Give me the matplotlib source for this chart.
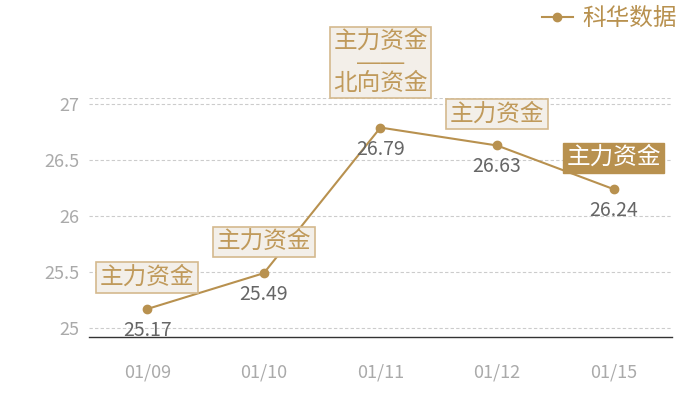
import matplotlib
matplotlib.use('Agg')
import matplotlib.pyplot as plt

plt.rcParams['font.family'] = ['Noto Sans CJK SC', 'DejaVu Sans']

dates = ['01/09', '01/10', '01/11', '01/12', '01/15']
prices = [25.17, 25.49, 26.79, 26.63, 26.24]
tags = ['主力资金', '主力资金', '主力资金\n——\n北向资金', '主力资金', '主力资金']
tag_filled = [False, False, False, False, True]
series_name = '科华数据'

gold = '#b8914f'
tag_text = '#c09a5b'

fig = plt.figure(figsize=(7, 4), dpi=100)
ax = fig.add_axes([0.127, 0.1575, 0.833, 0.5975])

x = list(range(len(dates)))
ax.plot(x, prices, color=gold, lw=1.5, marker='o', markersize=6, label=series_name)

ax.set_xlim(-0.5, len(dates) - 0.5)
ax.set_ylim(24.92, 27.054)
ax.set_yticks([25, 25.5, 26, 26.5, 27])
ax.set_yticklabels(['25', '25.5', '26', '26.5', '27'])
ax.set_xticks(x)
ax.set_xticklabels(dates)
ax.tick_params(length=0, colors='#aaaaaa', labelsize=13)
ax.tick_params(axis='x', pad=19)
ax.tick_params(axis='y', pad=7)

ax.grid(axis='y', color='#cccccc', linestyle=(0, (3, 2)), lw=0.8)
ax.axhline(27.054, color='#cccccc', linestyle=(0, (3, 2)), lw=0.8)
for side in ['top', 'right', 'left']:
    ax.spines[side].set_visible(False)
ax.spines['bottom'].set_color('#333333')
ax.spines['bottom'].set_linewidth(1)

for xi, p, t, filled in zip(x, prices, tags, tag_filled):
    ax.annotate(f'{p:.2f}', (xi, p), xytext=(0, -11), textcoords='offset pixels',
                ha='center', va='top', fontsize=14, color='#666666')
    if filled:
        box = dict(boxstyle='square,pad=0.15', fc=gold, ec=gold, lw=1)
        tc = 'white'
    else:
        box = dict(boxstyle='square,pad=0.15', fc='#f3efe9', ec='#d4b98e', lw=1.2)
        tc = tag_text
    multi = '\n' in t
    # em dashes from Liberation Sans join into one rule
    ax.annotate(t, (xi, p), xytext=(0, 33 if multi else 20), textcoords='offset pixels',
                ha='center', va='bottom', fontsize=17, color=tc, bbox=box,
                linespacing=0.92, annotation_clip=False,
                family=['Liberation Sans', 'Noto Sans CJK SC'] if multi else None)

fig.legend(loc='upper right', bbox_to_anchor=(0.997, 1.035), frameon=False,
           fontsize=17, handlelength=1.3, handletextpad=0.4, labelcolor=gold)

fig.savefig('out.png', dpi=100)
